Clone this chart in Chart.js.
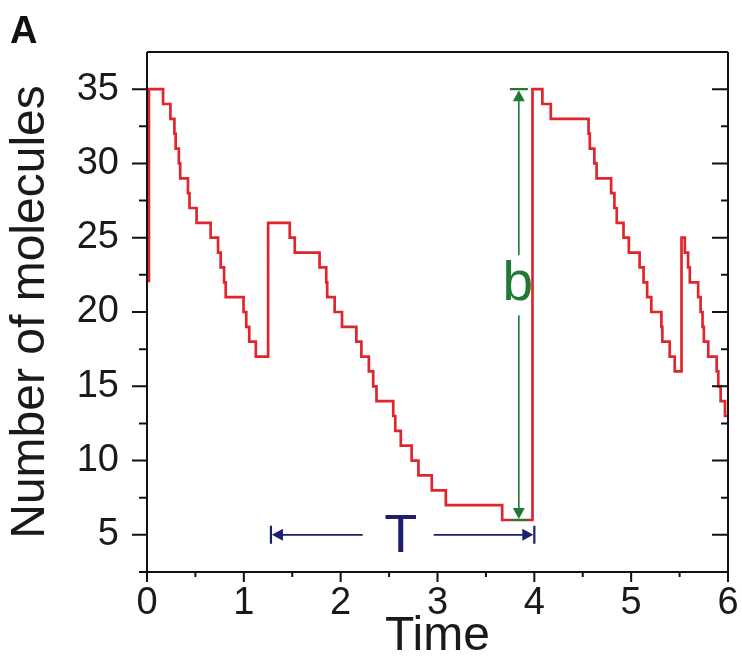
<!DOCTYPE html>
<html>
<head>
<meta charset="utf-8">
<script src="https://cdn.jsdelivr.net/npm/chart.js@4"></script>
<style>
  body { margin: 0; background: #fff; }
  canvas { display: block; }
</style>
</head>
<body>
<canvas id="chart" width="742" height="669"></canvas>
<script>
// step times and molecule counts
const times = [0.02, 0.02, 0.166, 0.242, 0.283, 0.296, 0.329, 0.343, 0.423, 0.439, 0.512,
  0.657, 0.734, 0.761, 0.796, 0.813, 0.997, 1.025, 1.056, 1.124, 1.251,
  1.474, 1.526, 1.782, 1.851, 1.861, 1.938, 2.014, 2.162, 2.214, 2.291, 2.336, 2.370,
  2.543, 2.564, 2.621, 2.733, 2.803, 2.941, 3.086, 3.668, 3.981,
  4.083, 4.170, 4.560, 4.573, 4.620, 4.643, 4.793, 4.827, 4.851, 4.921, 4.976,
  5.087, 5.128, 5.165, 5.208, 5.312, 5.322, 5.398, 5.450, 5.520,
  5.554, 5.588, 5.606, 5.692, 5.717, 5.737, 5.751, 5.796, 5.883, 5.900, 5.924, 5.969, 6.0];
const counts = [22, 35, 34, 33, 32, 31, 30, 29, 28, 27, 26,
  25, 24, 23, 22, 21, 20, 19, 18, 17, 26,
  25, 24, 23, 22, 21, 20, 19, 18, 17, 16, 15, 14,
  13, 12, 11, 10, 9, 8, 7, 6, 35,
  34, 33, 32, 31, 30, 29, 28, 27, 26, 25, 24,
  23, 22, 21, 20, 19, 18, 17, 16, 25,
  24, 23, 22, 21, 20, 19, 18, 17, 16, 15, 14, 13, 13];

const xTicks = [0, 1, 2, 3, 4, 5, 6];
const yTicks = [5, 10, 15, 20, 25, 30, 35];
const xMinor = [0.5, 1.5, 2.5, 3.5, 4.5, 5.5];
const yMinor = [2.5, 7.5, 12.5, 17.5, 22.5, 27.5, 32.5];

// annotation positions (data units): [x, yFrom, yTo] and [xFrom, xTo, y]
const bArrow = [3.84, 6, 35];
const tArrow = [1.28, 4.0, 5];

const FONT = '"Liberation Sans", Arial, sans-serif';
const RED = '#e0262c';
const GREEN = '#1f7a34';
const NAVY = '#1c1f6e';

const frame = {
  id: 'frame',
  afterDraw(chart) {
    const ctx = chart.ctx;
    const xs = chart.scales.x, ys = chart.scales.y;
    const a = chart.chartArea;
    ctx.save();
    ctx.strokeStyle = '#111';
    ctx.lineWidth = 2;
    ctx.beginPath();
    ctx.moveTo(a.left, a.top); ctx.lineTo(a.right, a.top);
    ctx.moveTo(a.left, a.top); ctx.lineTo(a.left, a.bottom + 3);
    ctx.moveTo(a.right, a.top); ctx.lineTo(a.right, a.bottom);
    ctx.moveTo(a.left - 3, a.bottom); ctx.lineTo(a.right, a.bottom);
    yTicks.forEach(v => {
      const y = ys.getPixelForValue(v);
      ctx.moveTo(a.left - 15, y); ctx.lineTo(a.left, y);
      ctx.moveTo(a.right - 16, y); ctx.lineTo(a.right, y);
    });
    yMinor.forEach(v => {
      const y = ys.getPixelForValue(v);
      ctx.moveTo(a.left - 8, y); ctx.lineTo(a.left, y);
      ctx.moveTo(a.right - 7, y); ctx.lineTo(a.right, y);
    });
    xTicks.forEach(v => {
      const x = xs.getPixelForValue(v);
      ctx.moveTo(x, a.bottom); ctx.lineTo(x, a.bottom + 10);
    });
    xMinor.forEach(v => {
      const x = xs.getPixelForValue(v);
      ctx.moveTo(x, a.bottom); ctx.lineTo(x, a.bottom + 5);
    });
    ctx.stroke();

    // b arrow
    const bx = xs.getPixelForValue(bArrow[0]);
    const bBot = ys.getPixelForValue(bArrow[1]);
    const bTop = ys.getPixelForValue(bArrow[2]);
    const bMid = ys.getPixelForValue(21.8);
    ctx.strokeStyle = GREEN; ctx.fillStyle = GREEN;
    ctx.lineWidth = 1.6;
    ctx.beginPath();
    ctx.moveTo(bx, bTop + 10); ctx.lineTo(bx, bMid - 30);
    ctx.moveTo(bx, bMid + 30); ctx.lineTo(bx, bBot - 10);
    ctx.stroke();
    ctx.lineWidth = 2.2;
    ctx.beginPath();
    ctx.moveTo(bx - 9, bTop); ctx.lineTo(bx + 9, bTop);
    ctx.moveTo(bx - 9, bBot); ctx.lineTo(bx + 9, bBot);
    ctx.stroke();
    ctx.beginPath();
    ctx.moveTo(bx, bTop + 1); ctx.lineTo(bx - 6, bTop + 12); ctx.lineTo(bx + 6, bTop + 12); ctx.closePath();
    ctx.moveTo(bx, bBot - 1); ctx.lineTo(bx - 6, bBot - 12); ctx.lineTo(bx + 6, bBot - 12); ctx.closePath();
    ctx.fill();
    ctx.font = '55px ' + FONT;
    ctx.textAlign = 'center'; ctx.textBaseline = 'middle';
    ctx.fillText('b', bx - 1, bMid);

    // T arrow
    const tl = xs.getPixelForValue(tArrow[0]);
    const tr = xs.getPixelForValue(tArrow[1]);
    const ty = ys.getPixelForValue(tArrow[2]);
    const tMid = xs.getPixelForValue(2.62);
    ctx.strokeStyle = NAVY; ctx.fillStyle = NAVY;
    ctx.lineWidth = 1.6;
    ctx.beginPath();
    ctx.moveTo(tl + 10, ty); ctx.lineTo(tMid - 38, ty);
    ctx.moveTo(tMid + 33, ty); ctx.lineTo(tr - 10, ty);
    ctx.stroke();
    ctx.lineWidth = 2.2;
    ctx.beginPath();
    ctx.moveTo(tl, ty - 9); ctx.lineTo(tl, ty + 9);
    ctx.moveTo(tr, ty - 9); ctx.lineTo(tr, ty + 9);
    ctx.stroke();
    ctx.beginPath();
    ctx.moveTo(tl + 1, ty); ctx.lineTo(tl + 12, ty - 6); ctx.lineTo(tl + 12, ty + 6); ctx.closePath();
    ctx.moveTo(tr - 1, ty); ctx.lineTo(tr - 12, ty - 6); ctx.lineTo(tr - 12, ty + 6); ctx.closePath();
    ctx.fill();
    ctx.font = '54px ' + FONT;
    ctx.fillText('T', tMid, ty + 2);

    // panel letter
    ctx.fillStyle = '#111';
    ctx.font = 'bold 38px ' + FONT;
    ctx.textAlign = 'left'; ctx.textBaseline = 'alphabetic';
    ctx.fillText('A', 10, 43);
    ctx.restore();
  }
};

const points = times.map((t, i) => ({ x: t, y: counts[i] }));

new Chart(document.getElementById('chart'), {
  type: 'line',
  data: {
    datasets: [{
      data: points,
      stepped: true,
      borderColor: RED,
      borderWidth: 2.7,
      pointRadius: 0,
      fill: false
    }]
  },
  options: {
    responsive: false,
    animation: false,
    devicePixelRatio: 1,
    layout: { padding: { top: 52, right: 14, left: 0, bottom: 0 } },
    plugins: { legend: { display: false }, tooltip: { enabled: false } },
    scales: {
      x: {
        type: 'linear', min: 0, max: 6,
        afterBuildTicks: s => { s.ticks = xTicks.map(v => ({ value: v })); },
        afterFit: s => { s.height = 97; s.paddingLeft = 0; s.paddingRight = 0; },
        grid: { display: false, drawTicks: false },
        border: { display: false },
        ticks: { autoSkip: false, maxRotation: 0, padding: 9, color: '#1a1a1a',
          font: { size: 38, family: FONT } },
        title: { display: true, text: 'Time', color: '#1a1a1a', padding: { top: 0, bottom: 3 },
          font: { size: 48, family: FONT } }
      },
      y: {
        type: 'linear', min: 2.5, max: 37.5,
        afterBuildTicks: s => { s.ticks = yTicks.map(v => ({ value: v })); },
        afterFit: s => { s.width = 147; s.paddingTop = 0; s.paddingBottom = 0; },
        grid: { display: false, drawTicks: false },
        border: { display: false },
        ticks: { autoSkip: false, padding: 28, color: '#1a1a1a',
          font: { size: 38, family: FONT } },
        title: { display: true, text: 'Number of molecules', color: '#1a1a1a', padding: { top: 2, bottom: 0 },
          font: { size: 48, family: FONT } }
      }
    }
  },
  plugins: [frame]
});
</script>
</body>
</html>
